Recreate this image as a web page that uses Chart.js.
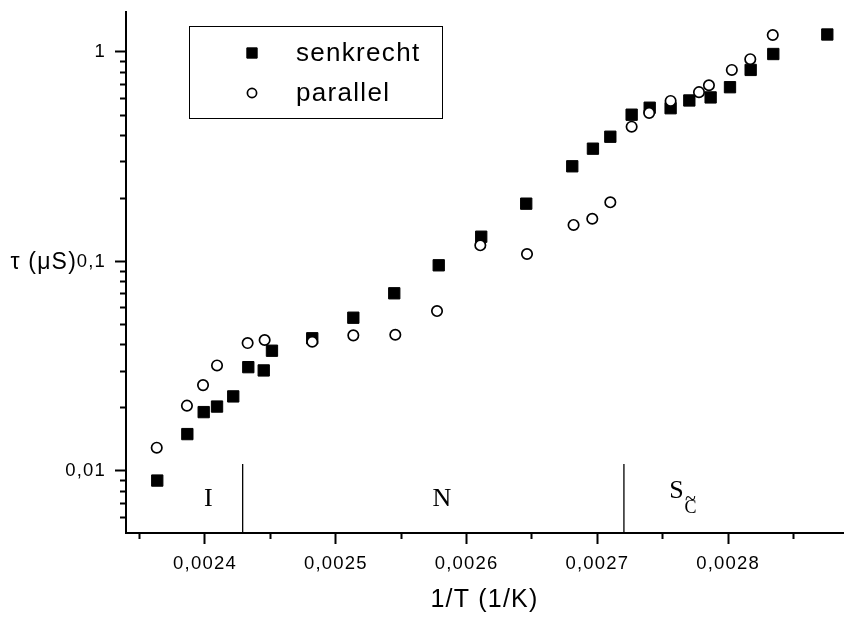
<!DOCTYPE html>
<html>
<head>
<meta charset="utf-8">
<title>tau vs 1/T</title>
<script src="https://cdn.jsdelivr.net/npm/chart.js@4.4.1/dist/chart.umd.min.js"></script>
<style>
  html, body { margin: 0; padding: 0; background: #fff; }
  canvas { display: block; }
</style>
</head>
<body>
<canvas id="tau-plot" width="845" height="617"></canvas>
<script>
// relaxation time tau (µs) against inverse temperature, two orientations

var senkX   = [0.0023635, 0.0023865, 0.0023990, 0.0024092, 0.0024216, 0.0024331, 0.0024449, 0.0024512,
               0.0024820, 0.0025134, 0.0025447, 0.0025787, 0.0026112, 0.0026456, 0.0026808, 0.0026966,
               0.0027099, 0.0027262, 0.0027400, 0.0027560, 0.0027703, 0.0027866, 0.0028014, 0.0028172,
               0.0028345, 0.0028758];
var senkTau = [0.0090, 0.0150, 0.0191, 0.0203, 0.0227, 0.0313, 0.0302, 0.0375,
               0.0430, 0.0539, 0.0705, 0.0959, 0.1313, 0.1888, 0.2847, 0.3455,
               0.394, 0.502, 0.542, 0.539, 0.587, 0.607, 0.679, 0.821,
               0.978, 1.212];

var parX    = [0.0023631, 0.0023862, 0.0023985, 0.0024092, 0.0024326, 0.0024456, 0.0024820, 0.0025134,
               0.0025455, 0.0025774, 0.0026105, 0.0026462, 0.0026818, 0.0026961, 0.0027099, 0.0027262,
               0.0027396, 0.0027560, 0.0027777, 0.0027853, 0.0028028, 0.0028169, 0.0028341];
var parTau  = [0.01292, 0.0205, 0.0257, 0.0319, 0.0408, 0.0422, 0.0414, 0.0444,
               0.0447, 0.0580, 0.1195, 0.1086, 0.1494, 0.160, 0.1917, 0.440,
               0.512, 0.584, 0.643, 0.694, 0.821, 0.924, 1.205];

var seriesNames = ['senkrecht', 'parallel'];

// phase boundaries (I | N | S_C~) and where their names sit
var phaseBounds   = [0.0024288, 0.0027203];
var phaseBoundTop = 0.0108;
var phaseNames    = ['I', 'N', 'S'];
var phaseNameX    = [0.0024025, 0.0025811, 0.0027605];
var phaseNameTau  = 0.0068;

var xMajor       = [0.0024, 0.0025, 0.0026, 0.0027, 0.0028];
var xMajorLabels = ['0,0024', '0,0025', '0,0026', '0,0027', '0,0028'];
var xMinor       = [0.00235, 0.00245, 0.00255, 0.00265, 0.00275, 0.00285];

var yMajor       = [0.01, 0.1, 1];
var yMajorLabels = ['0,01', '0,1', '1'];
var yMinor       = [0.006, 0.007, 0.008, 0.009,
                    0.02, 0.03, 0.04, 0.05, 0.06, 0.07, 0.08, 0.09,
                    0.2, 0.3, 0.4, 0.5, 0.6, 0.7, 0.8, 0.9];

var X_MIN = 0.0023396, X_MAX = 0.0028878;
var Y_MIN = 0.005058,  Y_MAX = 1.552;

var SANS  = "'Liberation Sans', Arial, Helvetica, sans-serif";
var SERIF = "'Liberation Serif', 'Times New Roman', serif";

function _pts(xs, ys) {
  return xs.map(function(x, i) { return { x: x, y: ys[i] }; });
}

function _sorted(a, b) {
  return a.concat(b).sort(function(p, q) { return p - q; });
}

function _majorLabel(v, majors, labels) {
  var i = majors.indexOf(v);
  return i >= 0 ? labels[i] : '';
}

// minor ticks are drawn half length by dashing the tick stroke
function _minorDash(majors) {
  return function(c) {
    if (!c.tick || majors.indexOf(c.tick.value) >= 0) return [];
    return [5, 5];
  };
}

// keep the plot box fixed: no extra room for half-labels at the ends
function _noPad(s) {
  s.paddingTop = 0; s.paddingBottom = 0;
  s.paddingLeft = 0; s.paddingRight = 0;
}

var xTicks = _sorted(xMajor, xMinor);
var yTicks = _sorted(yMajor, yMinor);

var datasets = [
  {
    label: seriesNames[0],
    data: _pts(senkX, senkTau),
    pointStyle: 'rect', pointRadius: 8, pointHoverRadius: 8,
    backgroundColor: '#000', borderColor: '#000', borderWidth: 1,
    order: 2
  },
  {
    label: seriesNames[1],
    data: _pts(parX, parTau),
    pointStyle: 'circle', pointRadius: 5.2, pointHoverRadius: 5.2,
    backgroundColor: '#fff', borderColor: '#000', borderWidth: 1.7,
    order: 1
  }
];

phaseBounds.forEach(function(b) {
  datasets.push({
    label: '',
    data: [{ x: b, y: Y_MIN }, { x: b, y: phaseBoundTop }],
    showLine: true, pointRadius: 0, pointHoverRadius: 0,
    borderColor: '#000', borderWidth: 1.3, backgroundColor: '#000',
    order: 3
  });
});

var textPlugin = {
  id: 'tauText',
  beforeDraw: function(chart) {
    chart.ctx.letterSpacing = '1.2px';
  },
  afterDraw: function(chart) {
    var ctx = chart.ctx;
    var xs = chart.scales.x, ys = chart.scales.y;
    ctx.save();

    // y title sits horizontally next to the 0,1 label
    ctx.fillStyle = '#000';
    ctx.font = '23px ' + SANS;
    ctx.textAlign = 'right';
    ctx.textBaseline = 'alphabetic';
    ctx.fillText('\u03c4 (\u03bcS)', 77, ys.getPixelForValue(0.1) + 8);

    // legend box
    ctx.letterSpacing = '1.3px';
    ctx.lineWidth = 1;
    ctx.strokeStyle = '#000';
    ctx.strokeRect(189.5, 26.5, 253, 92);
    var rows = [53, 93];
    chart.data.datasets.slice(0, 2).forEach(function(ds, i) {
      ctx.fillStyle = ds.backgroundColor;
      ctx.strokeStyle = ds.borderColor;
      ctx.lineWidth = ds.borderWidth;
      Chart.helpers.drawPoint(ctx, {
        pointStyle: ds.pointStyle,
        radius: ds.pointStyle === 'rect' ? 7.3 : 4.6,
        borderWidth: ds.borderWidth,
        rotation: 0
      }, 252, rows[i]);
      ctx.fillStyle = '#000';
      ctx.font = '26px ' + SANS;
      ctx.textAlign = 'left';
      ctx.textBaseline = 'middle';
      ctx.fillText(ds.label, 296, rows[i] + 1);
    });

    // phase names
    ctx.letterSpacing = '0px';
    ctx.fillStyle = '#000';
    ctx.textBaseline = 'alphabetic';
    var base = ys.getPixelForValue(phaseNameTau);
    phaseNames.forEach(function(name, i) {
      var px = xs.getPixelForValue(phaseNameX[i]);
      ctx.font = '26px ' + SERIF;
      ctx.textAlign = 'center';
      if (name === 'S') {
        ctx.fillText('S', px, base - 8);
        ctx.font = '18px ' + SERIF;
        ctx.fillText('C', px + 14, base + 7);
        ctx.font = '20px ' + SERIF;
        ctx.fillText('~', px + 14, base - 1);
      } else {
        ctx.fillText(name, px, base);
      }
    });

    ctx.restore();
    ctx.letterSpacing = '0px';
  }
};

var tickFont = { family: SANS, size: 18.5 };

new Chart(document.getElementById('tau-plot').getContext('2d'), {
  type: 'scatter',
  data: { datasets: datasets },
  plugins: [textPlugin],
  options: {
    responsive: false,
    devicePixelRatio: 1,
    animation: false,
    events: [],
    layout: { autoPadding: false, padding: { left: 0, top: 12, right: 2, bottom: 0 } },
    plugins: { legend: { display: false }, tooltip: { enabled: false } },
    scales: {
      x: {
        type: 'linear',
        min: X_MIN, max: X_MAX,
        afterBuildTicks: function(s) { s.ticks = xTicks.map(function(v) { return { value: v }; }); },
        afterFit: function(s) { s.height = 84; _noPad(s); },
        border: { display: true, color: '#000', width: 2 },
        grid: {
          drawOnChartArea: false, drawTicks: true,
          tickLength: 11, tickWidth: 2, tickColor: '#000',
          tickBorderDash: _minorDash(xMajor)
        },
        ticks: {
          autoSkip: false, maxRotation: 0, minRotation: 0,
          color: '#000', font: tickFont, padding: 9,
          callback: function(v) { return _majorLabel(v, xMajor, xMajorLabels); }
        },
        title: {
          display: true, text: '1/T (1/K)', color: '#000',
          font: { family: SANS, size: 25 }, padding: { top: 0, bottom: 2 }
        }
      },
      y: {
        type: 'logarithmic',
        min: Y_MIN, max: Y_MAX,
        afterBuildTicks: function(s) { s.ticks = yTicks.map(function(v) { return { value: v }; }); },
        afterFit: function(s) { s.width = 126; _noPad(s); },
        border: { display: true, color: '#000', width: 2 },
        grid: {
          drawOnChartArea: false, drawTicks: true,
          tickLength: 11, tickWidth: 2, tickColor: '#000',
          tickBorderDash: _minorDash(yMajor),
          tickBorderDashOffset: 5
        },
        ticks: {
          autoSkip: false, color: '#000', font: tickFont, padding: 9,
          callback: function(v) { return _majorLabel(v, yMajor, yMajorLabels); }
        }
      }
    }
  }
});
</script>
</body>
</html>
